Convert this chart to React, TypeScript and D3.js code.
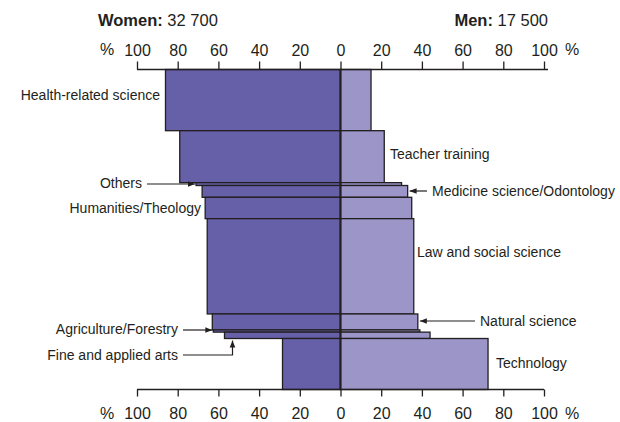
import React, { useRef, useEffect } from 'react';
import * as d3 from 'd3';

// fields of study, top to bottom
const categories = [
  'Health-related science',
  'Teacher training',
  'Others',
  'Medicine science/Odontology',
  'Humanities/Theology',
  'Law and social science',
  'Natural science',
  'Agriculture/Forestry',
  'Fine and applied arts',
  'Technology',
];
// graduates per field (bar thickness)
const graduates = [9600, 8150, 450, 1850, 3350, 14950, 2500, 350, 1000, 8000];
// share of women / men, %
const womenPct = [86, 79, 71, 68, 66.5, 65.5, 63, 62.5, 57, 28.5];
const menPct = [15, 21.5, 30, 33, 35, 36, 38, 39, 44, 72.5];
const tickValues = [0, 20, 40, 60, 80, 100];
const womenTotal = '32 700';
const menTotal = '17 500';

const INK = '#231f20';
const FONT = '"Liberation Sans", Arial, sans-serif';

// label placement: side, text x, baseline y, optional arrow
type Lbl = { side: 'l' | 'r'; x: number; y: number; arrow?: 'h' | 'elbow'; ay?: number };
const labelLayout: Lbl[] = [
  { side: 'l', x: 160, y: 99.5 },
  { side: 'r', x: 390, y: 158.5 },
  { side: 'l', x: 142, y: 188, arrow: 'h', ay: 184 },
  { side: 'r', x: 432, y: 195.5, arrow: 'h', ay: 191 },
  { side: 'l', x: 201, y: 213 },
  { side: 'r', x: 417, y: 257 },
  { side: 'r', x: 480, y: 325.5, arrow: 'h', ay: 321 },
  { side: 'l', x: 178, y: 334, arrow: 'h', ay: 330 },
  { side: 'l', x: 178, y: 359.5, arrow: 'elbow', ay: 355 },
  { side: 'r', x: 496, y: 368 },
];

const App: React.FC = () => {
  const svgRef = useRef<SVGSVGElement | null>(null);

  useEffect(() => {
    const svg = d3.select(svgRef.current);
    svg.selectAll('*').remove();

    const cx = 340.5;
    const top = 69.5;
    const bottom = 389.5;

    const xW = d3.scaleLinear().domain([0, 100]).range([cx, 137]);
    const xM = d3.scaleLinear().domain([0, 100]).range([cx, 544]);
    const y = d3.scaleLinear().domain([0, d3.sum(graduates)]).range([top, bottom]);

    const cum: number[] = [];
    graduates.reduce((acc, g) => { cum.push(acc); return acc + g; }, 0);

    svg.append('defs').append('marker')
      .attr('id', 'ah')
      .attr('viewBox', '0 0 10 10')
      .attr('refX', 10).attr('refY', 5)
      .attr('markerWidth', 7).attr('markerHeight', 7)
      .attr('markerUnits', 'userSpaceOnUse')
      .attr('orient', 'auto')
      .append('path').attr('d', 'M0,1 L10,5 L0,9 Z').attr('fill', INK);

    // header
    const hdr = svg.append('g').style('font-family', FONT).style('font-size', '16.5px').attr('fill', INK);
    const tw = hdr.append('text').attr('x', 98).attr('y', 26);
    tw.append('tspan').attr('font-weight', 'bold').text('Women:');
    tw.append('tspan').text(' ' + womenTotal);
    const tm = hdr.append('text').attr('x', 548).attr('y', 26).attr('text-anchor', 'end');
    tm.append('tspan').attr('font-weight', 'bold').text('Men:');
    tm.append('tspan').text(' ' + menTotal);

    // bars
    const rows = svg.append('g').selectAll('g').data(categories).enter().append('g');
    rows.append('rect')
      .attr('x', (_, i) => xW(womenPct[i]))
      .attr('y', (_, i) => y(cum[i]))
      .attr('width', (_, i) => cx - xW(womenPct[i]))
      .attr('height', (_, i) => y(cum[i] + graduates[i]) - y(cum[i]))
      .attr('fill', '#6660a9')
      .attr('stroke', INK).attr('stroke-width', 1.3);
    rows.append('rect')
      .attr('x', cx)
      .attr('y', (_, i) => y(cum[i]))
      .attr('width', (_, i) => xM(menPct[i]) - cx)
      .attr('height', (_, i) => y(cum[i] + graduates[i]) - y(cum[i]))
      .attr('fill', '#9b95c8')
      .attr('stroke', INK).attr('stroke-width', 1.3);

    svg.append('line')
      .attr('x1', cx).attr('x2', cx).attr('y1', top).attr('y2', bottom)
      .attr('stroke', INK).attr('stroke-width', 2);

    // axes
    const drawAxis = (yPos: number, isTop: boolean) => {
      const g = svg.append('g').attr('transform', `translate(0,${yPos})`);
      const mk = (s: d3.ScaleLinear<number, number>, vals: number[]) =>
        (isTop ? d3.axisTop(s) : d3.axisBottom(s))
          .tickValues(vals).tickSize(isTop ? 8 : 7).tickPadding(isTop ? 6 : 11)
          .tickFormat(d3.format('d'));
      g.append('g').call(mk(xW, tickValues.slice(1)));
      g.append('g').call(mk(xM, tickValues));
      g.selectAll('.domain').remove();
      g.selectAll('.tick line').attr('stroke', INK).attr('stroke-width', 1.3);
      g.selectAll('.tick text').attr('fill', INK).style('font-family', FONT).style('font-size', '16px');
      g.append('line').attr('x1', xW(100)).attr('x2', xM(100) + (isTop ? 4 : 0))
        .attr('stroke', INK).attr('stroke-width', 1.3);
      const ty = isTop ? -14.5 : 29.5;
      g.append('text').attr('x', 100).attr('y', ty).text('%')
        .attr('fill', INK).style('font-family', FONT).style('font-size', '16px');
      g.append('text').attr('x', 565).attr('y', ty).text('%')
        .attr('fill', INK).style('font-family', FONT).style('font-size', '16px');
    };
    drawAxis(top, true);
    drawAxis(bottom, false);

    // category labels
    const lg = svg.append('g').style('font-family', FONT).style('font-size', '14px').attr('fill', INK);
    categories.forEach((c, i) => {
      const l = labelLayout[i];
      lg.append('text').attr('x', l.x).attr('y', l.y)
        .attr('text-anchor', l.side === 'l' ? 'end' : 'start').text(c);
      if (!l.arrow) return;
      const ay = l.ay as number;
      if (l.arrow === 'h') {
        const tip = l.side === 'l' ? xW(womenPct[i]) - 1 : xM(menPct[i]) + 2;
        const start = l.side === 'l' ? l.x + 5 : l.x - 5;
        lg.append('line').attr('x1', start).attr('x2', tip).attr('y1', ay).attr('y2', ay)
          .attr('stroke', INK).attr('stroke-width', 1.2).attr('marker-end', 'url(#ah)');
      } else {
        const bx = xW(womenPct[i]) + 8;
        const by = y(cum[i] + graduates[i]) + 2;
        lg.append('path').attr('d', `M${l.x + 5},${ay} H${bx} V${by}`)
          .attr('fill', 'none').attr('stroke', INK).attr('stroke-width', 1.2)
          .attr('marker-end', 'url(#ah)');
      }
    });
  }, []);

  return (
    <div>
      <svg ref={svgRef} width={620} height={422}
        style={{ position: 'absolute', left: 0, top: 0, background: '#fff' }} />
    </div>
  );
};

export default App;
